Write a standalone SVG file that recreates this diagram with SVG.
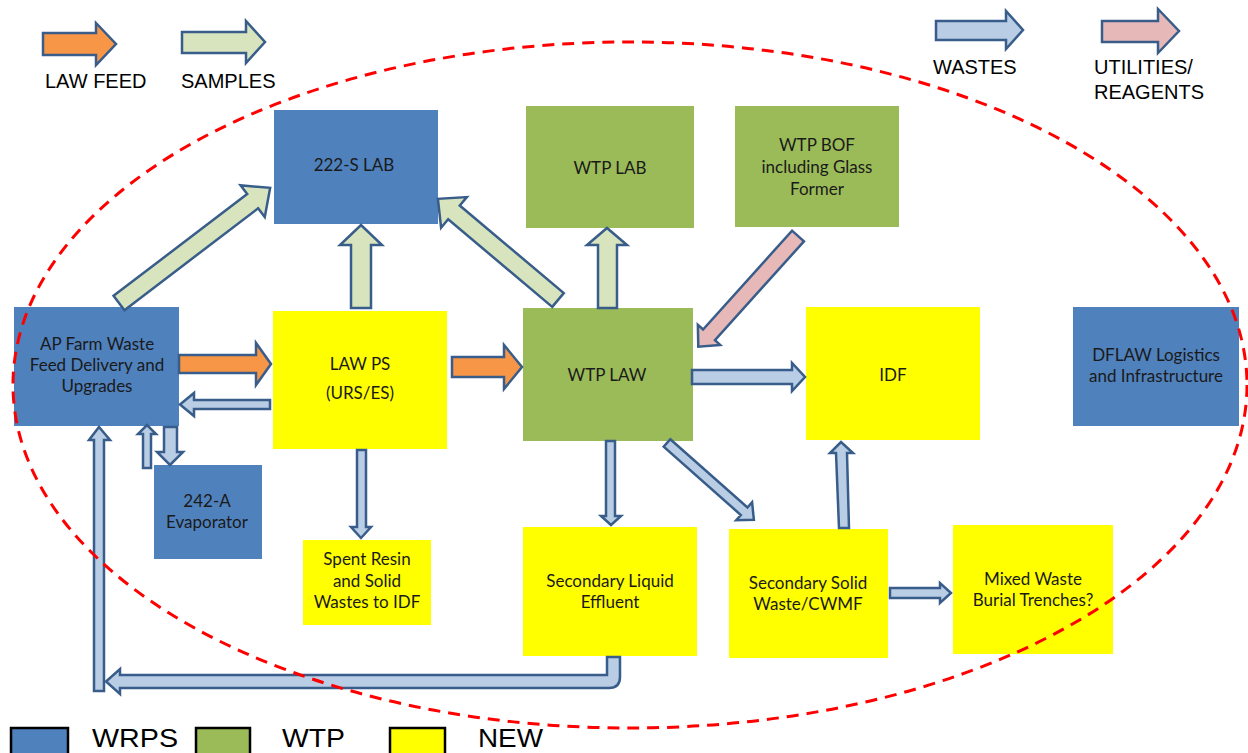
<svg xmlns="http://www.w3.org/2000/svg" width="1248" height="753" viewBox="0 0 1248 753">
<style>
.wrps{fill:#4f81bd}
.wtp{fill:#9bbb59}
.new{fill:#ffff00}
.t{font-family:Lato,"Liberation Sans",sans-serif;font-size:17px;fill:#1a1a1a;text-anchor:middle}
.lg{font-family:"Liberation Sans",Arial,sans-serif;font-size:20px;fill:#000}
.lg2{font-family:"Liberation Sans",Arial,sans-serif;font-size:26px;fill:#000}
.a{stroke:#385d8a;stroke-width:2.5;stroke-linejoin:miter}
.feed{fill:#f79646}
.samp{fill:#d7e4bd}
.waste{fill:#b9cde5}
.util{fill:#e6b9b8}
.key{stroke:#000;stroke-width:2.5}
</style>
<rect width="1248" height="753" fill="#fff"/>

<g id="legend">
<path class="a feed" d="M43,33 H96 V23 L116,44 L96,65 V55 H43 Z"/>
<text class="lg" x="45" y="88">LAW FEED</text>
<path class="a samp" d="M182,32 H246 V21 L265,42 L246,63 V53 H182 Z"/>
<text class="lg" x="181" y="88">SAMPLES</text>
<path class="a waste" d="M936,21 H1006 V11 L1023,30 L1006,49 V40 H936 Z"/>
<text class="lg" x="933" y="74">WASTES</text>
<path class="a util" d="M1102,21 H1158 V9 L1179,31 L1158,53 V42 H1102 Z"/>
<text class="lg" x="1094" y="74">UTILITIES/</text>
<text class="lg" x="1094" y="99">REAGENTS</text>
<rect class="key wrps" x="11" y="728" width="57" height="32"/>
<text class="lg2" x="92" y="747" textLength="86" lengthAdjust="spacingAndGlyphs">WRPS</text>
<rect class="key wtp" x="196" y="728" width="54" height="32"/>
<text class="lg2" x="282" y="747" textLength="63" lengthAdjust="spacingAndGlyphs">WTP</text>
<rect class="key new" x="390" y="728" width="55" height="32"/>
<text class="lg2" x="478" y="747" textLength="65" lengthAdjust="spacingAndGlyphs">NEW</text>
</g>

<g id="n-222s"><rect class="wrps" x="274" y="110" width="164" height="114"/><text class="t" x="354" y="171">222-S LAB</text></g>
<g id="n-wtplab"><rect class="wtp" x="526" y="106" width="168" height="122"/><text class="t" x="610" y="174">WTP LAB</text></g>
<g id="n-wtpbof"><rect class="wtp" x="735" y="106" width="164" height="121"/><text class="t" x="817" y="151">WTP BOF</text><text class="t" x="817" y="173">including Glass</text><text class="t" x="817" y="195">Former</text></g>
<g id="n-apfarm"><rect class="wrps" x="14" y="307" width="165" height="119"/><text class="t" x="97" y="350">AP Farm Waste</text><text class="t" x="97" y="371">Feed Delivery and</text><text class="t" x="97" y="392">Upgrades</text></g>
<g id="n-lawps"><rect class="new" x="273" y="311" width="174" height="138"/><text class="t" x="360" y="370">LAW PS</text><text class="t" x="360" y="399">(URS/ES)</text></g>
<g id="n-wtplaw"><rect class="wtp" x="523" y="308" width="170" height="133"/><text class="t" x="607" y="381">WTP LAW</text></g>
<g id="n-idf"><rect class="new" x="806" y="307" width="174" height="133"/><text class="t" x="893" y="381">IDF</text></g>
<g id="n-dflaw"><rect class="wrps" x="1073" y="307" width="166" height="119"/><text class="t" x="1156" y="361">DFLAW Logistics</text><text class="t" x="1156" y="382">and Infrastructure</text></g>
<g id="n-242a"><rect class="wrps" x="154" y="465" width="108" height="94"/><text class="t" x="207" y="507">242-A</text><text class="t" x="207" y="528">Evaporator</text></g>
<g id="n-spent"><rect class="new" x="303" y="540" width="128" height="85"/><text class="t" x="367" y="565">Spent Resin</text><text class="t" x="367" y="587">and Solid</text><text class="t" x="367" y="608">Wastes to IDF</text></g>
<g id="n-secliq"><rect class="new" x="523" y="527" width="174" height="129"/><text class="t" x="610" y="587">Secondary Liquid</text><text class="t" x="610" y="608">Effluent</text></g>
<g id="n-secsol"><rect class="new" x="729" y="529" width="159" height="129"/><text class="t" x="808" y="589">Secondary Solid</text><text class="t" x="808" y="610">Waste/CWMF</text></g>
<g id="n-mixed"><rect class="new" x="953" y="525" width="160" height="129"/><text class="t" x="1033" y="585">Mixed Waste</text><text class="t" x="1033" y="606">Burial Trenches?</text></g>

<g id="connectors">
<path class="a feed" d="M179,355 H256 V343 L271,364 L256,385 V373 H179 Z"/>
<path class="a feed" d="M452,357 H504 V345 L522,367 L504,389 V377 H452 Z"/>
<path class="a waste" d="M270,400 H194 V393 L180,404.5 L194,416 V409 H270 Z"/>
<path class="a waste" d="M143,468 V434 H138 L147,425 L156,434 H151 V468 Z"/>
<path class="a waste" d="M164,427 V452 H157 L170,465 L183,452 H177 V427 Z"/>
<path class="a waste" d="M94,691 V440 H89 L99,427 L110,440 H104 V691 Z"/>
<path class="a waste" d="M607,657 H620 V677 Q620,688 609,688 H120 V694 L106,681.5 L120,669 V675 H607 Z"/>
<path class="a samp" transform="translate(119,303) rotate(-37.3)" d="M0,-9 H168 V-20 L190,0 L168,20 V9 H0 Z"/>
<path class="a samp" transform="translate(558,300) rotate(-139.9)" d="M0,-9 H136 V-20 L157,0 L136,20 V9 H0 Z"/>
<path class="a util" transform="translate(798,236) rotate(132)" d="M0,-8 H133 V-15 L149,0 L133,15 V8 H0 Z"/>
<path class="a waste" transform="translate(667,443) rotate(41.5)" d="M0,-5 H103 V-12 L116,0 L103,12 V5 H0 Z"/>
<path class="a samp" d="M351,308 V245 H340 L361,225 L382,245 H371 V308 Z"/>
<path class="a samp" d="M598,308 V245 H587 L607,228 L627,245 H617 V308 Z"/>
<path class="a waste" d="M692,370 H792 V363 L805,377 L792,391 V384 H692 Z"/>
<path class="a waste" d="M606,441 V516 H601 L611,525 L621,516 H615 V441 Z"/>
<path class="a waste" d="M839,528 L836,453 H830 L841,442 L853,453 H847 L849,528 Z"/>
<path class="a waste" d="M890,588 H940 V583 L951,593 L940,603 V598 H890 Z"/>
<path class="a waste" d="M357,450 V527 H351 L361,538 L371,527 H366 V450 Z"/>
</g>

<ellipse id="boundary" cx="630" cy="385" rx="617" ry="343" fill="none" stroke="#ff0000" stroke-width="3" stroke-dasharray="12 8"/>
</svg>
